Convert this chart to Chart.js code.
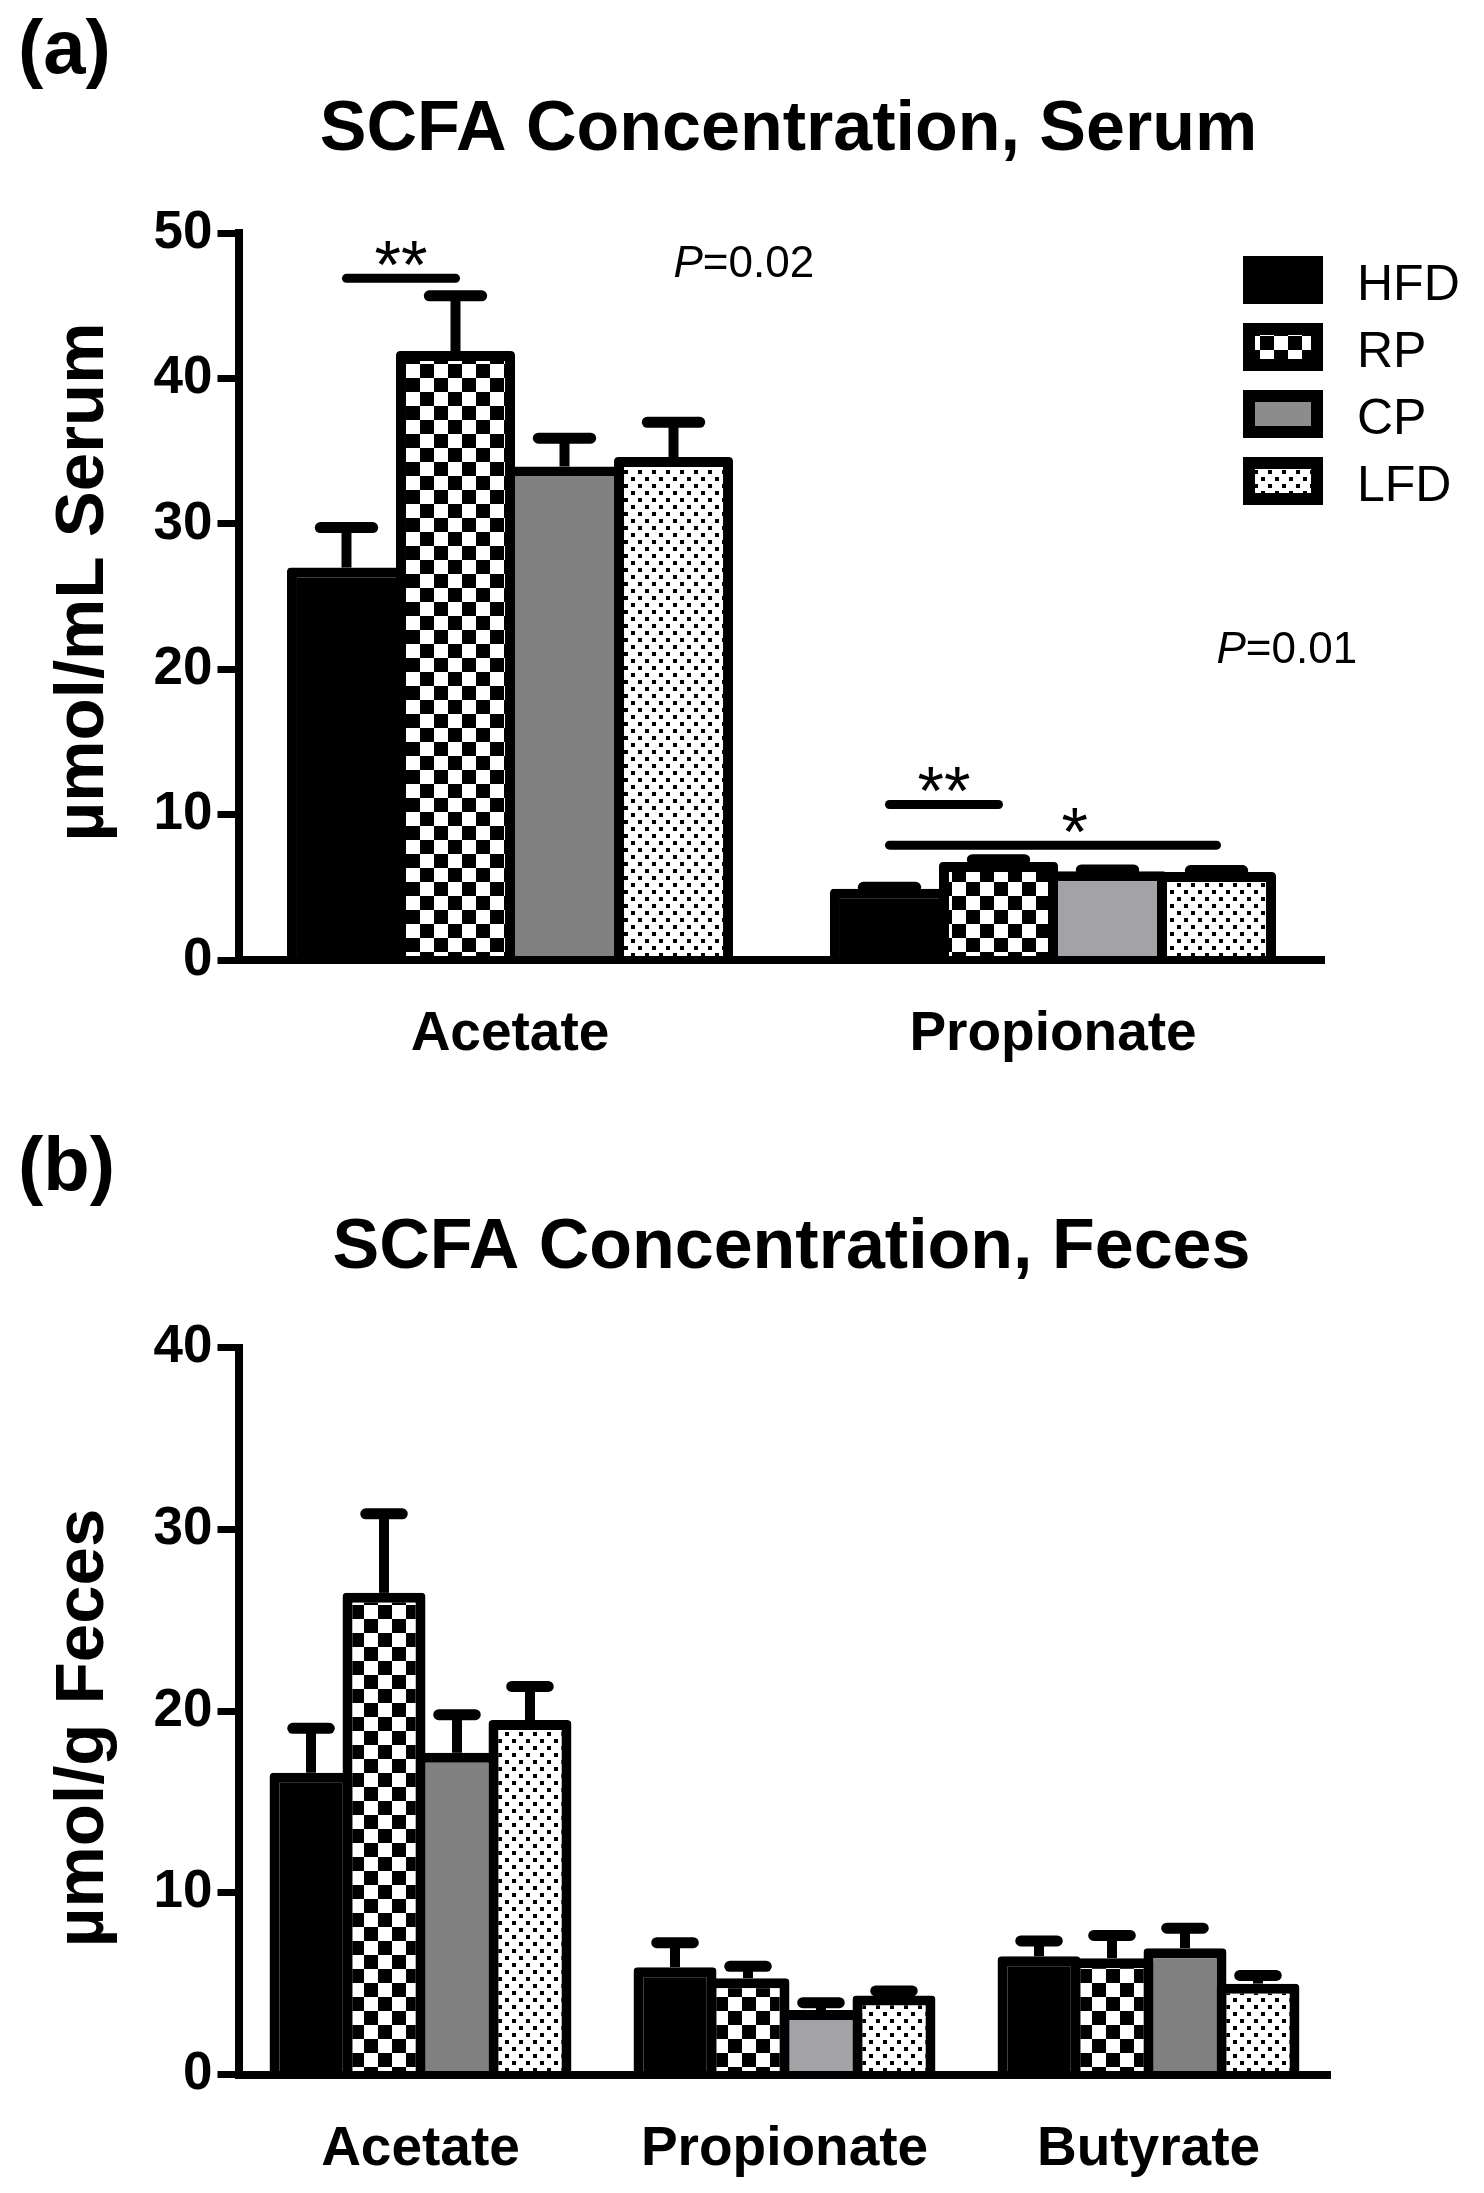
<!DOCTYPE html>
<html>
<head>
<meta charset="utf-8">
<title>SCFA Concentration</title>
<script src="https://cdn.jsdelivr.net/npm/chart.js@4.4.1/dist/chart.umd.min.js"></script>
<style>
    html, body { margin: 0; padding: 0; background: #fff; }
    body { width: 1484px; height: 2193px; position: relative; overflow: hidden; }
    canvas { position: absolute; left: 0; }
    #serum-chart { top: 0; }
    #feces-chart { top: 1115px; }
</style>
</head>
<body>
<canvas id="serum-chart" width="1484" height="1115"></canvas>
<canvas id="feces-chart" width="1484" height="1078"></canvas>
<script>
// ---- data ----
const GROUPS = ['HFD', 'RP', 'CP', 'LFD'];

// (a) serum, µmol/mL
const SERUM_ACIDS = ['Acetate', 'Propionate'];
const SERUM_HFD = [27.0, 4.9];
const SERUM_RP = [41.9, 6.75];
const SERUM_CP = [33.95, 6.1];
const SERUM_LFD = [34.6, 6.05];
const SERUM_HFD_SEM = [2.75, 0.1];
const SERUM_RP_SEM = [3.8, 0.15];
const SERUM_CP_SEM = [1.95, 0.1];
const SERUM_LFD_SEM = [2.4, 0.1];
const SERUM_TICKS = [0, 10, 20, 30, 40, 50];
// significance bars: acid index, first/last group index, height, mark
const SERUM_SIG = [
    { acid: 0, from: 0, to: 1, y: 46.9, mark: '**', markAt: 0.5 },
    { acid: 1, from: 0, to: 1, y: 10.7, mark: '**', markAt: 0.5 },
    { acid: 1, from: 0, to: 3, y: 7.9, mark: '*', markAt: 1.7 }
];
const SERUM_P = [
    { acid: 0, group: 3, y: 47.0, value: '0.02' },
    { acid: 1, group: 3, y: 20.45, value: '0.01' }
];

// (b) feces, µmol/g
const FECES_ACIDS = ['Acetate', 'Propionate', 'Butyrate'];
const FECES_HFD = [16.6, 5.9, 6.5];
const FECES_RP = [26.5, 5.3, 6.4];
const FECES_CP = [17.7, 3.55, 6.95];
const FECES_LFD = [19.5, 4.35, 5.0];
const FECES_HFD_SEM = [2.45, 1.35, 0.85];
const FECES_RP_SEM = [4.35, 0.65, 1.25];
const FECES_CP_SEM = [2.1, 0.4, 1.1];
const FECES_LFD_SEM = [1.85, 0.25, 0.45];
const FECES_TICKS = [0, 10, 20, 30, 40];

const FONT = "'Liberation Sans', Arial, sans-serif";

// Fill patterns for the groups
function makePatterns(ctx) {
    const chk = document.createElement('canvas');
    chk.width = chk.height = 28;
    let g = chk.getContext('2d');
    g.fillStyle = '#fff';
    g.fillRect(0, 0, 28, 28);
    g.fillStyle = '#000';
    g.fillRect(0, 0, 14, 14);
    g.fillRect(14, 14, 14, 14);

    const dot = document.createElement('canvas');
    dot.width = dot.height = 14;
    g = dot.getContext('2d');
    g.fillStyle = '#fff';
    g.fillRect(0, 0, 14, 14);
    g.fillStyle = '#000';
    g.fillRect(1, 1, 4, 4);
    g.fillRect(8, 8, 4, 4);

    return {
        checker: ctx.createPattern(chk, 'repeat'),
        dots: ctx.createPattern(dot, 'repeat')
    };
}

function barX(chart, group, acid) {
    return chart.getDatasetMeta(group).data[acid].x;
}

function renderPanel(canvasId, cfg) {
    const canvas = document.getElementById(canvasId);
    const ctx = canvas.getContext('2d');
    const pat = makePatterns(ctx);
    const W = canvas.width, H = canvas.height;

    const fills = [
        '#000000',
        pat.checker,
        cfg.cpColors,
        pat.dots
    ];

    const datasets = GROUPS.map((name, i) => ({
        label: name,
        data: cfg.values[i],
        backgroundColor: fills[i],
        borderColor: '#000000',
        borderWidth: 10,
        borderSkipped: 'start',
        borderRadius: { topLeft: 4, topRight: 4, bottomLeft: 0, bottomRight: 0 },
        categoryPercentage: cfg.catPct,
        barPercentage: cfg.barPct
    }));

    // error bars (mean + SEM, upward only)
    const errorBars = {
        id: 'errorBars',
        afterDatasetsDraw(chart) {
            const c = chart.ctx;
            const y = chart.scales.y;
            c.save();
            c.strokeStyle = '#000';
            chart.data.datasets.forEach((ds, di) => {
                chart.getDatasetMeta(di).data.forEach((bar, i) => {
                    const top = y.getPixelForValue(ds.data[i] + cfg.sems[di][i]);
                    const half = bar.width * 0.22;
                    c.lineCap = 'butt';
                    c.lineWidth = 10;
                    c.beginPath();
                    c.moveTo(bar.x, bar.y);
                    c.lineTo(bar.x, top);
                    c.stroke();
                    c.lineCap = 'round';
                    c.lineWidth = 11;
                    c.beginPath();
                    c.moveTo(bar.x - half, top);
                    c.lineTo(bar.x + half, top);
                    c.stroke();
                });
            });
            c.restore();
        }
    };

    // titles, significance marks, P values, legend
    const decorations = {
        id: 'decorations',
        afterDraw(chart) {
            const c = chart.ctx;
            const area = chart.chartArea;
            const y = chart.scales.y;
            c.save();
            c.fillStyle = '#000';
            c.strokeStyle = '#000';
            c.textBaseline = 'alphabetic';

            c.font = `bold 76px ${FONT}`;
            c.textAlign = 'left';
            c.fillText(cfg.panel, 18, cfg.panelY);

            c.font = `bold 70px ${FONT}`;
            c.textAlign = 'center';
            c.fillText(cfg.title, (area.left + area.right) / 2 + 7, cfg.titleY);

            c.save();
            c.translate(103, cfg.yTitleY);
            c.rotate(-Math.PI / 2);
            c.font = `bold 69px ${FONT}`;
            c.textAlign = 'center';
            c.fillText(cfg.yTitle, 0, 0);
            c.restore();

            (cfg.sig || []).forEach(s => {
                const x1 = barX(chart, s.from, s.acid);
                const x2 = barX(chart, s.to, s.acid);
                const ly = y.getPixelForValue(s.y);
                c.lineWidth = 9;
                c.lineCap = 'round';
                c.beginPath();
                c.moveTo(x1, ly);
                c.lineTo(x2, ly);
                c.stroke();
                const i0 = Math.floor(s.markAt);
                const f = s.markAt - i0;
                const xa = barX(chart, i0, s.acid);
                const xb = f > 0 ? barX(chart, i0 + 1, s.acid) : xa;
                c.font = `68px ${FONT}`;
                c.textAlign = 'center';
                c.fillText(s.mark, xa + f * (xb - xa), ly + 10);
            });

            (cfg.pValues || []).forEach(p => {
                const px = barX(chart, p.group, p.acid);
                const py = y.getPixelForValue(p.y);
                c.textAlign = 'left';
                c.font = `italic 44px ${FONT}`;
                c.fillText('P', px, py);
                const w = c.measureText('P').width;
                c.font = `44px ${FONT}`;
                c.fillText('=' + p.value, px + w, py);
            });

            if (cfg.legend) {
                const lg = cfg.legend;
                const legendFills = ['#000000', pat.checker, '#8c8c8c', pat.dots];
                GROUPS.forEach((name, i) => {
                    const top = lg.y + i * 67;
                    c.fillStyle = '#000';
                    c.fillRect(lg.x, top, 80, 48);
                    c.fillStyle = legendFills[i];
                    c.fillRect(lg.x + 12, top + 12, 56, 24);
                    c.fillStyle = '#000';
                    c.font = `50px ${FONT}`;
                    c.textAlign = 'left';
                    c.fillText(name, lg.x + 114, top + 44);
                });
            }
            c.restore();
        }
    };

    return new Chart(ctx, {
        type: 'bar',
        data: { labels: cfg.acids, datasets },
        options: {
            responsive: false,
            animation: false,
            devicePixelRatio: 1,
            layout: {
                padding: { top: cfg.area.top, right: W - cfg.area.right, left: 0, bottom: 0 }
            },
            plugins: {
                legend: { display: false },
                title: { display: false },
                tooltip: { enabled: false }
            },
            scales: {
                x: {
                    grid: { display: false, drawTicks: false, tickLength: 0 },
                    border: { display: true, width: 8, color: '#000', z: 1 },
                    ticks: {
                        color: '#000',
                        padding: 42,
                        maxRotation: 0,
                        font: { family: FONT, size: 55, weight: 'bold' }
                    },
                    afterFit: s => { s.height = H - cfg.area.bottom; }
                },
                y: {
                    min: 0,
                    max: cfg.ticks[cfg.ticks.length - 1],
                    afterBuildTicks: s => { s.ticks = cfg.ticks.map(v => ({ value: v })); },
                    grid: {
                        display: true,
                        drawOnChartArea: false,
                        drawTicks: true,
                        tickLength: 21,
                        tickWidth: 7,
                        tickColor: '#000'
                    },
                    border: { display: true, width: 8, color: '#000', z: 1 },
                    ticks: {
                        color: '#000',
                        padding: 5,
                        font: { family: FONT, size: 53, weight: 'bold' }
                    },
                    afterFit: s => { s.width = cfg.area.left; }
                }
            }
        },
        plugins: [errorBars, decorations]
    });
}

renderPanel('serum-chart', {
    panel: '(a)', panelY: 73,
    title: 'SCFA Concentration, Serum', titleY: 150,
    yTitle: '\u00B5mol/mL Serum', yTitleY: 582,
    acids: SERUM_ACIDS,
    values: [SERUM_HFD, SERUM_RP, SERUM_CP, SERUM_LFD],
    sems: [SERUM_HFD_SEM, SERUM_RP_SEM, SERUM_CP_SEM, SERUM_LFD_SEM],
    cpColors: ['#808080', '#a2a2a7'],
    ticks: SERUM_TICKS,
    sig: SERUM_SIG,
    pValues: SERUM_P,
    legend: { x: 1243, y: 256 },
    area: { left: 238.5, right: 1324.5, top: 233.3, bottom: 960 },
    catPct: 0.803, barPct: 1.092
});

renderPanel('feces-chart', {
    panel: '(b)', panelY: 75,
    title: 'SCFA Concentration, Feces', titleY: 153,
    yTitle: '\u00B5mol/g Feces', yTitleY: 613,
    acids: FECES_ACIDS,
    values: [FECES_HFD, FECES_RP, FECES_CP, FECES_LFD],
    sems: [FECES_HFD_SEM, FECES_RP_SEM, FECES_CP_SEM, FECES_LFD_SEM],
    cpColors: ['#808080', '#a2a2a7', '#808080'],
    ticks: FECES_TICKS,
    area: { left: 238.5, right: 1330.5, top: 232.5, bottom: 959.5 },
    catPct: 0.802, barPct: 1.137
});
</script>
</body>
</html>
